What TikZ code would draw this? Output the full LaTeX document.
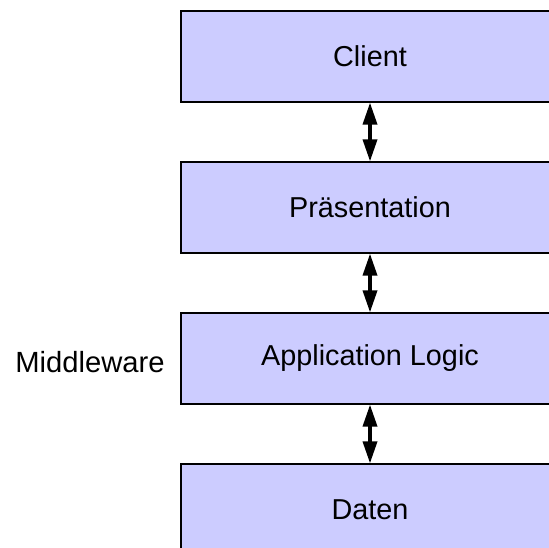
\documentclass[tikz,border=0pt]{standalone}
\usepackage{fontspec}
\setmainfont{Liberation Sans}
\usetikzlibrary{arrows.meta}
\definecolor{boxfill}{HTML}{CCCCFF}
\begin{document}
\begin{tikzpicture}[x=1pt,y=-1pt,
  layer/.style={draw=black,line width=1.2pt,fill=boxfill,minimum width=378pt,minimum height=91pt,inner sep=0pt,font=\fontsize{28.8}{34}\selectfont},
  link/.style={line width=3.5pt,{Triangle[length=22pt,width=14pt]}-{Triangle[length=22pt,width=14pt]}}]
\useasboundingbox (0,0) rectangle (549,548);
\clip (0,0) rectangle (549,548);
\node[layer] (client) at (370,56.5) {Client};
\node[layer] (praes) at (370,207.5) {Präsentation};
\node[layer] (app) at (370,358.5) {Application Logic};
\node[layer] (daten) at (370,509.5) {Daten};
\node[font=\fontsize{29.2}{34}\selectfont,anchor=center] (mw) at (90,362) {Middleware};
\draw[link] (client.south) -- (praes.north);
\draw[link] (praes.south) -- (app.north);
\draw[link] (app.south) -- (daten.north);
\end{tikzpicture}
\end{document}
